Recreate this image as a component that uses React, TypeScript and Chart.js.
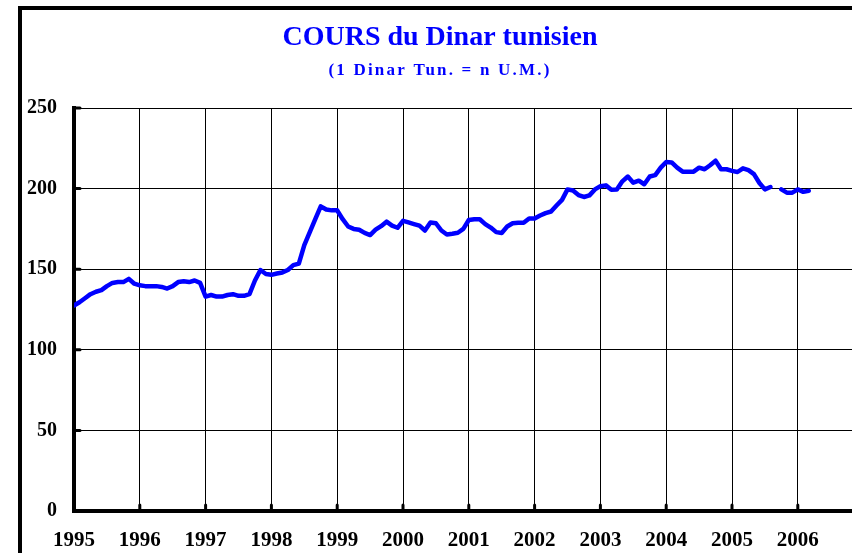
import React, { useEffect, useRef } from "react";
import { Chart, registerables } from "chart.js";

Chart.register(...registerables);

const TITLE = "COURS du Dinar tunisien";
const SUBTITLE = "(1 Dinar Tun. = n U.M.)";
const START_YEAR = 1995;
const YEAR_TICKS = [1995, 1996, 1997, 1998, 1999, 2000, 2001, 2002, 2003, 2004, 2005, 2006];
const Y_TICKS = [0, 50, 100, 150, 200, 250];

// Monthly values (Jan..Dec)
const y1995 = [127.5, 129.5, 132, 134.5, 136, 137, 139.5, 141.5, 142, 142, 144, 141];
const y1996 = [140, 139.5, 139.5, 139.5, 139, 138, 139.5, 142, 142.5, 142, 143, 141.5];
const y1997 = [133, 134, 133, 133, 134, 134.5, 133.5, 133.5, 134.5, 143, 149.5, 147];
const y1998 = [146.5, 147.3, 148, 149.5, 152.5, 153.5, 165, 173, 181, 189, 187, 186.5];
const y1999 = [186.5, 181, 176.5, 175, 174.5, 172.5, 171.2, 174.5, 176.7, 179.5, 177, 175.7];
const y2000 = [180, 179, 178, 177, 174, 179, 178.5, 174, 171.5, 172, 172.6, 175];
const y2001 = [180.5, 181, 181, 178, 175.8, 173, 172.5, 176.5, 178.5, 178.8, 178.8, 181.5];
const y2002 = [181.5, 183.3, 184.8, 185.8, 189.5, 193, 199.5, 198.8, 196, 194.8, 195.8, 199.5];
const y2003 = [201.5, 202, 199.3, 199.4, 204.5, 207.5, 203.7, 204.9, 202.7, 207.5, 208.4, 213];
const y2004 = [216.5, 216.2, 213, 210.5, 210.5, 210.5, 213, 212, 214.5, 217.3, 212, 212];
const y2005 = [211, 210.3, 212.6, 211.5, 209, 203.5, 199.5, 201, null, 199.5, 197.5, 197.5];
const y2006 = [199.5, 198, 198.6];

const ALL_VALUES: (number | null)[] = [
  ...y1995, ...y1996, ...y1997, ...y1998, ...y1999, ...y2000,
  ...y2001, ...y2002, ...y2003, ...y2004, ...y2005, ...y2006,
];

const SERIF = '"Liberation Serif", "Times New Roman", serif';

const decorPlugin = {
  id: "decor",
  beforeDraw(chart: any) {
    const ctx = chart.ctx;
    ctx.save();
    ctx.fillStyle = "#fff";
    ctx.fillRect(0, 0, chart.width, chart.height);
    // outer frame (right/bottom edges fall outside the picture)
    ctx.strokeStyle = "#000";
    ctx.lineWidth = 4;
    ctx.strokeRect(20, 8, chart.width + 40, chart.height + 40);
    // titles
    ctx.fillStyle = "#0000ff";
    ctx.textAlign = "center";
    ctx.textBaseline = "alphabetic";
    ctx.font = `bold 28px ${SERIF}`;
    ctx.fillText(TITLE, 440, 45);
    ctx.font = `bold 17px ${SERIF}`;
    try { (ctx as any).letterSpacing = "2.2px"; } catch (e) {}
    ctx.fillText(SUBTITLE, 440, 75);
    try { (ctx as any).letterSpacing = "0px"; } catch (e) {}
    ctx.restore();
  },
  afterDraw(chart: any) {
    const ctx = chart.ctx;
    const xs = chart.scales.x;
    const ys = chart.scales.y;
    const area = chart.chartArea;
    ctx.save();
    ctx.strokeStyle = "#000";
    ctx.lineCap = "round";
    ctx.lineWidth = 3;
    for (const yr of YEAR_TICKS) {
      const px = xs.getPixelForValue(yr);
      ctx.beginPath();
      ctx.moveTo(px, area.bottom);
      ctx.lineTo(px, area.bottom - 6);
      ctx.stroke();
    }
    for (const v of Y_TICKS) {
      const py = ys.getPixelForValue(v);
      ctx.beginPath();
      ctx.moveTo(area.left, py);
      ctx.lineTo(area.left + 6, py);
      ctx.stroke();
    }
    ctx.restore();
  },
};

export default function App() {
  const ref = useRef<HTMLCanvasElement | null>(null);

  useEffect(() => {
    document.body.style.margin = "0";
    const canvas = ref.current;
    if (!canvas) return;
    const points = ALL_VALUES.map((v, i) => ({ x: START_YEAR + i / 12, y: v }));
    const chart = new Chart(canvas, {
      type: "line",
      data: {
        datasets: [
          {
            data: points as any,
            borderColor: "#0000ff",
            borderWidth: 4.5,
            pointRadius: 0,
            tension: 0,
            spanGaps: false,
            borderJoinStyle: "round",
            borderCapStyle: "round",
          },
        ],
      },
      options: {
        animation: false,
        responsive: false,
        maintainAspectRatio: false,
        layout: { padding: { top: 108, left: 0, right: 0, bottom: 0 } },
        plugins: { legend: { display: false }, tooltip: { enabled: false }, title: { display: false } },
        scales: {
          x: {
            type: "linear",
            min: 1995,
            max: 1995 + (852 - 74) / 65.8,
            afterBuildTicks: (scale: any) => {
              scale.ticks = YEAR_TICKS.map((v) => ({ value: v }));
            },
            afterFit: (scale: any) => {
              scale.height = 42;
            },
            ticks: {
              autoSkip: false,
              maxRotation: 0,
              padding: 17,
              color: "#000",
              font: { family: SERIF, size: 21, weight: "bold" },
              callback: (v: any) => String(v),
            },
            grid: { color: "#000", lineWidth: 1, drawTicks: false },
            border: { color: "#000", width: 4 },
          },
          y: {
            min: 0,
            max: 250,
            afterBuildTicks: (scale: any) => {
              scale.ticks = Y_TICKS.map((v) => ({ value: v }));
            },
            afterFit: (scale: any) => {
              scale.width = 74;
            },
            ticks: {
              padding: 17,
              color: "#000",
              font: { family: SERIF, size: 20, weight: "bold" },
              callback: (v: any) => String(v),
            },
            grid: { color: "#000", lineWidth: 1, drawTicks: false },
            border: { color: "#000", width: 4 },
          },
        },
      },
      plugins: [decorPlugin],
    });
    return () => chart.destroy();
  }, []);

  return (
    <div style={{ width: 852, height: 553 }}>
      <canvas ref={ref} width={852} height={553} style={{ display: "block" }} />
    </div>
  );
}
